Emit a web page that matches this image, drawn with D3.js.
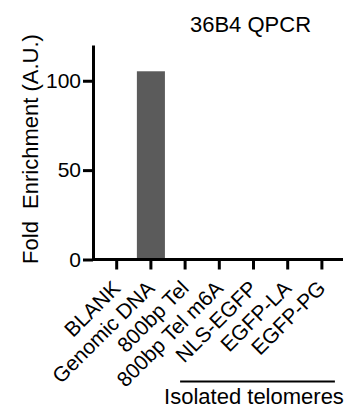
<!DOCTYPE html>
<html>
<head>
<meta charset="utf-8">
<script src="https://cdn.jsdelivr.net/npm/d3@7"></script>
<style>
  html, body { margin: 0; padding: 0; background: #fff; }
  svg { display: block; font-family: "Liberation Sans", Arial, Helvetica, sans-serif; }
</style>
</head>
<body>
<svg id="chart" width="350" height="408"></svg>
<script>
// Samples along the x axis
const categories = ["BLANK", "Genomic DNA", "800bp Tel", "800bp Tel m6A", "NLS-EGFP", "EGFP-LA", "EGFP-PG"];
// Fold enrichment per sample (arbitrary units)
const values = [0, 105.3, 0, 0, 0, 0, 0];
// Y axis ticks
const yTicks = [0, 50, 100];
// Samples spanned by the bracket under the axis
const groupedSamples = ["800bp Tel", "EGFP-PG"];
const groupLabel = "Isolated telomeres";
const title = "36B4 QPCR";
const yTitle = "Fold\u00a0\u00a0Enrichment (A.U.)";

const svg = d3.select("#chart");
const x0 = 93, x1 = 343, yTop = 45, yBase = 259.5;

const x = d3.scaleBand()
  .domain(categories)
  .range([99.6, 339])
  .paddingInner(0.18)
  .paddingOuter(0.09);
const cx = c => x(c) + x.bandwidth() / 2;

const y = d3.scaleLinear().domain([0, 120]).range([yBase, yTop]);

// Bars
svg.append("g").selectAll("rect")
  .data(values)
  .join("rect")
  .attr("x", (d, i) => x(categories[i]))
  .attr("width", x.bandwidth())
  .attr("y", d => y(d))
  .attr("height", d => yBase - y(d))
  .attr("fill", "#5b5b5b");

// Y axis
const yAxis = svg.append("g")
  .attr("transform", `translate(${x0},0)`)
  .call(d3.axisLeft(y).tickValues(yTicks).tickSize(10).tickPadding(2).tickSizeOuter(0));
yAxis.select(".domain").attr("stroke", "#000").attr("stroke-width", 3);
yAxis.selectAll(".tick line").attr("stroke", "#000").attr("stroke-width", 3);
yAxis.selectAll(".tick text")
  .attr("font-size", 21).attr("fill", "#000")
  .attr("font-family", "Liberation Sans, Arial, sans-serif");

// X axis with 45° labels
const xAxis = svg.append("g")
  .attr("transform", `translate(0,${yBase})`)
  .call(d3.axisBottom(x).tickSize(10).tickSizeOuter(0));
xAxis.select(".domain").attr("d", `M${x0},0H${x1}`).attr("stroke", "#000").attr("stroke-width", 3);
xAxis.selectAll(".tick line").attr("stroke", "#000").attr("stroke-width", 3);
xAxis.selectAll(".tick text")
  .attr("font-size", 21).attr("fill", "#000")
  .attr("font-family", "Liberation Sans, Arial, sans-serif")
  .attr("text-anchor", "end")
  .attr("dy", null)
  .attr("x", 5)
  .attr("y", 30)
  .attr("transform", "rotate(-45 5 30)");

// Title
svg.append("text")
  .attr("x", 250.5).attr("y", 31.5)
  .attr("text-anchor", "middle")
  .attr("font-size", 22)
  .text(title);

// Y axis title
svg.append("text")
  .attr("transform", "translate(37.5,149) rotate(-90)")
  .attr("text-anchor", "middle")
  .attr("font-size", 22)
  .text(yTitle);

// Group bracket
svg.append("line")
  .attr("x1", cx(groupedSamples[0]) - 5).attr("x2", cx(groupedSamples[1]) + 13)
  .attr("y1", 381.5).attr("y2", 381.5)
  .attr("stroke", "#000").attr("stroke-width", 2);
svg.append("text")
  .attr("x", 254).attr("y", 404)
  .attr("text-anchor", "middle")
  .attr("font-size", 22)
  .text(groupLabel);
</script>
</body>
</html>
